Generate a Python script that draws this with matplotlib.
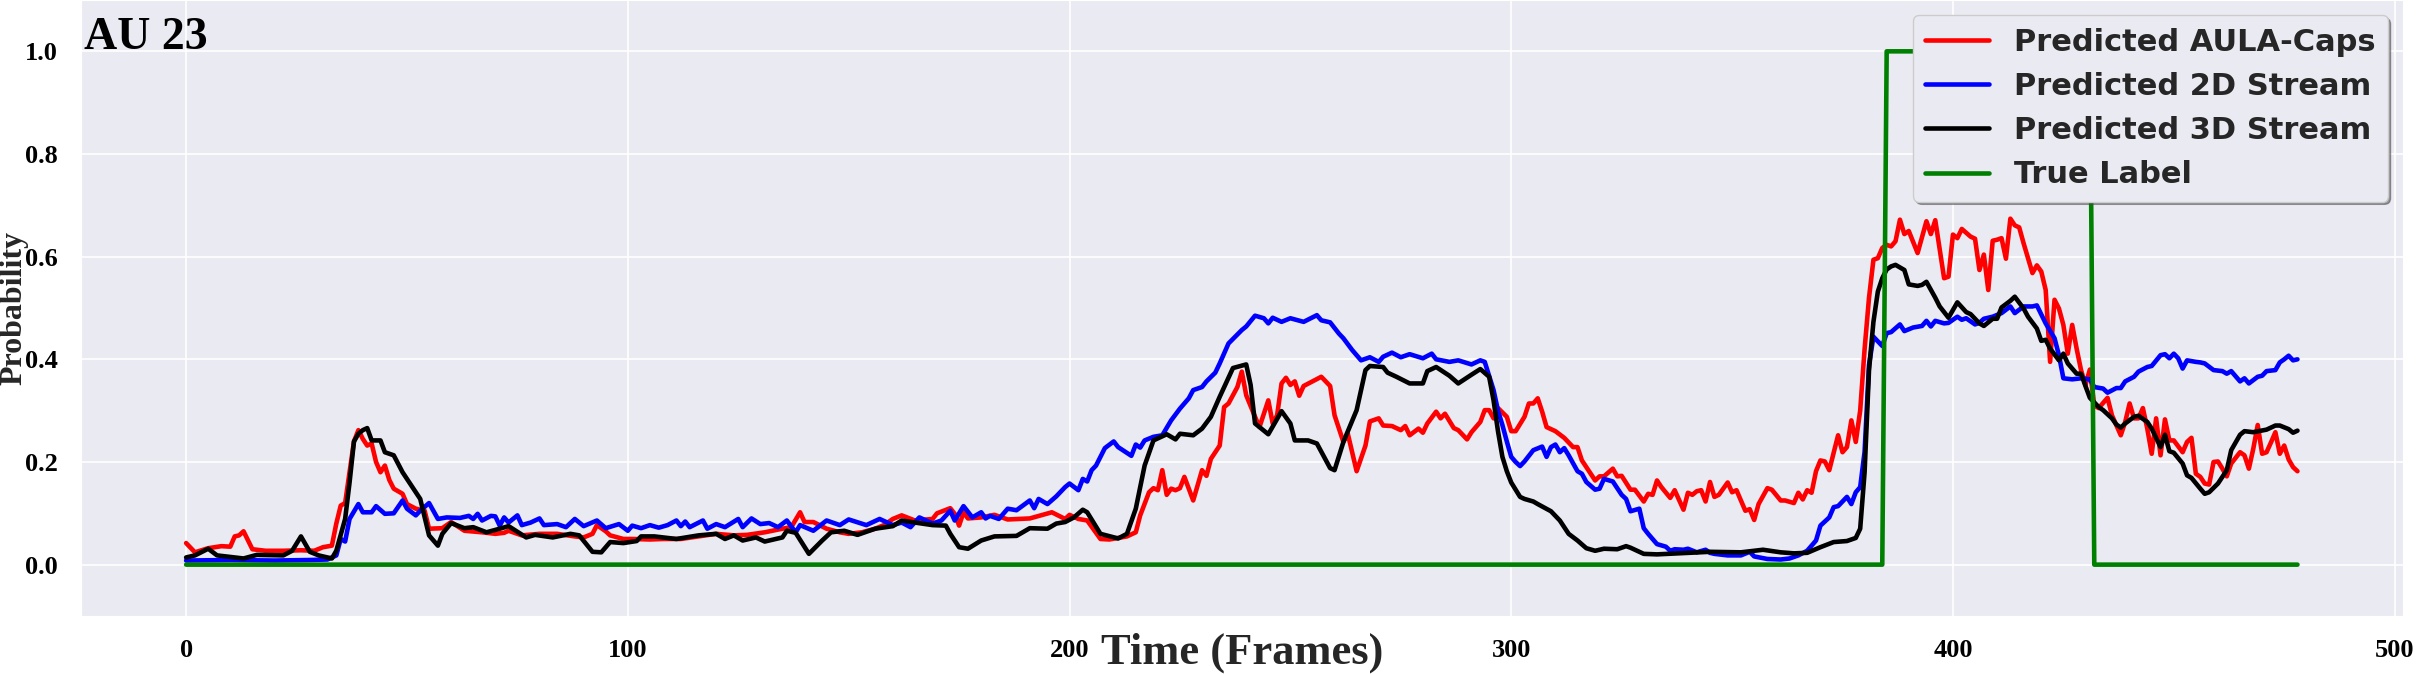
import matplotlib
matplotlib.use('Agg')
import matplotlib.pyplot as plt
import seaborn as sns

# values (frame index, probability)
frames_caps = [0, 2, 5, 8, 10, 11, 12, 13, 15, 18, 22, 26, 29, 31, 33, 34, 35, 36, 37, 38,
               39, 40, 41, 42, 43, 44, 45, 46, 47, 49, 50, 52, 54, 55, 58, 60, 63, 67, 70, 72,
               73, 76, 80, 84, 88, 90, 92, 93, 95, 96, 99, 101, 105, 108, 112, 116, 120, 124, 127, 131,
               135, 137, 139, 140, 142, 145, 148, 150, 153, 156, 158, 160, 162, 165, 169, 170, 173, 174, 175, 176,
               177, 180, 183, 186, 191, 196, 199, 200, 202, 204, 207, 209, 213, 215, 216, 218, 219, 220, 221, 222,
               223, 224, 225, 226, 228, 230, 231, 232, 234, 235, 236, 238, 239, 240, 242, 243, 245, 246, 247, 248,
               249, 250, 251, 252, 253, 255, 257, 259, 260, 262, 263, 265, 267, 268, 270, 271, 273, 275, 276, 277,
               279, 280, 281, 283, 284, 285, 287, 288, 290, 291, 293, 294, 295, 296, 297, 299, 300, 301, 303, 304,
               305, 306, 307, 308, 310, 312, 314, 315, 316, 319, 320, 321, 323, 324, 325, 327, 328, 330, 331, 332,
               333, 334, 336, 337, 339, 340, 341, 342, 343, 344, 345, 346, 347, 349, 350, 351, 353, 354, 355, 356,
               358, 359, 361, 362, 364, 365, 366, 367, 368, 369, 370, 371, 372, 374, 375, 376, 377, 378, 379, 380,
               381, 382, 383, 384, 385, 386, 387, 388, 389, 390, 392, 394, 395, 396, 398, 399, 400, 401, 402, 404,
               405, 406, 407, 408, 409, 410, 411, 412, 413, 414, 415, 416, 418, 419, 420, 421, 422, 423, 424, 425,
               426, 427, 428, 429, 430, 431, 432, 433, 435, 436, 438, 439, 440, 441, 442, 443, 444, 445, 446, 447,
               448, 449, 450, 452, 453, 454, 455, 456, 457, 458, 459, 460, 461, 462, 463, 465, 466, 467, 468, 469,
               470, 471, 472, 473, 474, 475, 476, 477, 478]
prob_caps = [0.042, 0.024, 0.032, 0.036, 0.035, 0.055, 0.057, 0.065, 0.030, 0.027, 0.027, 0.028, 0.027, 0.034, 0.037, 0.080, 0.115, 0.120, 0.180, 0.240,
             0.262, 0.245, 0.232, 0.236, 0.200, 0.180, 0.193, 0.165, 0.148, 0.138, 0.118, 0.109, 0.105, 0.070, 0.071, 0.083, 0.066, 0.063, 0.060, 0.062,
             0.066, 0.057, 0.060, 0.060, 0.055, 0.053, 0.060, 0.077, 0.065, 0.057, 0.050, 0.050, 0.049, 0.050, 0.050, 0.055, 0.060, 0.057, 0.058, 0.063,
             0.070, 0.073, 0.102, 0.083, 0.083, 0.070, 0.063, 0.060, 0.063, 0.070, 0.077, 0.089, 0.096, 0.086, 0.089, 0.100, 0.110, 0.099, 0.076, 0.102,
             0.090, 0.092, 0.097, 0.088, 0.090, 0.102, 0.089, 0.097, 0.089, 0.086, 0.050, 0.049, 0.055, 0.063, 0.096, 0.141, 0.149, 0.145, 0.184, 0.136,
             0.148, 0.145, 0.149, 0.171, 0.125, 0.184, 0.173, 0.206, 0.232, 0.307, 0.314, 0.346, 0.376, 0.330, 0.288, 0.268, 0.320, 0.275, 0.291, 0.353,
             0.364, 0.350, 0.357, 0.329, 0.348, 0.357, 0.366, 0.348, 0.291, 0.239, 0.255, 0.182, 0.232, 0.279, 0.285, 0.271, 0.270, 0.262, 0.270, 0.252,
             0.265, 0.257, 0.275, 0.298, 0.285, 0.294, 0.266, 0.262, 0.244, 0.258, 0.278, 0.301, 0.301, 0.285, 0.305, 0.288, 0.260, 0.260, 0.288, 0.314,
             0.314, 0.324, 0.298, 0.268, 0.260, 0.247, 0.229, 0.229, 0.203, 0.164, 0.172, 0.172, 0.187, 0.172, 0.173, 0.146, 0.146, 0.123, 0.138, 0.136,
             0.164, 0.151, 0.130, 0.145, 0.107, 0.140, 0.136, 0.143, 0.145, 0.123, 0.161, 0.132, 0.136, 0.160, 0.141, 0.145, 0.105, 0.108, 0.087, 0.118,
             0.149, 0.146, 0.125, 0.125, 0.120, 0.140, 0.127, 0.145, 0.140, 0.182, 0.203, 0.201, 0.184, 0.252, 0.219, 0.229, 0.281, 0.239, 0.300, 0.420,
             0.520, 0.594, 0.597, 0.617, 0.623, 0.620, 0.630, 0.672, 0.644, 0.650, 0.607, 0.669, 0.644, 0.671, 0.558, 0.561, 0.643, 0.636, 0.654, 0.639,
             0.635, 0.574, 0.604, 0.535, 0.631, 0.633, 0.636, 0.596, 0.674, 0.661, 0.657, 0.626, 0.568, 0.583, 0.571, 0.535, 0.395, 0.516, 0.499, 0.467,
             0.411, 0.467, 0.421, 0.379, 0.350, 0.380, 0.310, 0.305, 0.325, 0.291, 0.252, 0.278, 0.314, 0.285, 0.285, 0.305, 0.265, 0.216, 0.285, 0.213,
             0.283, 0.242, 0.242, 0.219, 0.239, 0.247, 0.177, 0.171, 0.158, 0.156, 0.200, 0.201, 0.187, 0.172, 0.197, 0.219, 0.213, 0.187, 0.226, 0.272,
             0.216, 0.219, 0.238, 0.258, 0.216, 0.232, 0.205, 0.190, 0.182]

frames_2d = [0, 10, 20, 28, 32, 34, 35, 36, 37, 39, 40, 42, 43, 45, 47, 49, 50, 52, 53, 55,
             57, 59, 62, 64, 65, 66, 67, 69, 70, 71, 72, 73, 75, 76, 78, 80, 81, 84, 86, 88,
             90, 93, 95, 98, 100, 101, 103, 105, 107, 109, 111, 112, 113, 114, 117, 118, 120, 122, 125, 126,
             128, 130, 132, 134, 136, 138, 139, 142, 145, 148, 150, 154, 157, 160, 162, 164, 166, 169, 171, 173,
             174, 176, 178, 180, 181, 182, 184, 186, 188, 191, 192, 193, 195, 197, 199, 200, 202, 203, 204, 205,
             206, 208, 210, 211, 214, 215, 216, 217, 219, 221, 223, 225, 227, 228, 230, 231, 233, 234, 236, 239,
             240, 242, 244, 245, 246, 248, 250, 253, 256, 257, 259, 261, 262, 264, 266, 268, 270, 271, 273, 275,
             277, 280, 282, 283, 286, 288, 291, 293, 294, 296, 297, 298, 299, 300, 301, 302, 303, 305, 307, 308,
             309, 310, 311, 312, 313, 315, 316, 317, 319, 320, 321, 323, 325, 326, 327, 329, 330, 331, 333, 335,
             336, 337, 339, 340, 342, 344, 345, 346, 349, 352, 354, 355, 358, 361, 363, 365, 367, 369, 370, 372,
             373, 374, 376, 377, 378, 379, 380, 381, 382, 384, 385, 386, 388, 389, 391, 393, 394, 395, 396, 398,
             399, 401, 402, 403, 405, 406, 407, 409, 411, 413, 414, 416, 418, 419, 421, 423, 424, 425, 427, 429,
             431, 432, 434, 435, 437, 438, 439, 441, 442, 444, 445, 447, 448, 449, 450, 451, 452, 453, 455, 456,
             457, 459, 461, 462, 463, 465, 466, 467, 469, 470, 471, 473, 474, 475, 476, 477, 478]
prob_2d = [0.008, 0.009, 0.008, 0.009, 0.010, 0.018, 0.050, 0.045, 0.089, 0.118, 0.102, 0.102, 0.114, 0.099, 0.100, 0.125, 0.109, 0.096, 0.105, 0.120,
           0.089, 0.092, 0.091, 0.095, 0.089, 0.099, 0.086, 0.095, 0.094, 0.076, 0.092, 0.082, 0.096, 0.077, 0.082, 0.090, 0.077, 0.079, 0.073, 0.089,
           0.075, 0.086, 0.071, 0.079, 0.066, 0.076, 0.071, 0.077, 0.072, 0.077, 0.086, 0.075, 0.084, 0.073, 0.086, 0.070, 0.079, 0.073, 0.089, 0.073,
           0.090, 0.079, 0.081, 0.073, 0.086, 0.063, 0.077, 0.066, 0.086, 0.077, 0.088, 0.077, 0.089, 0.077, 0.082, 0.073, 0.092, 0.080, 0.086, 0.105,
           0.086, 0.114, 0.092, 0.102, 0.090, 0.095, 0.089, 0.109, 0.106, 0.125, 0.110, 0.128, 0.118, 0.133, 0.151, 0.158, 0.145, 0.167, 0.162, 0.184,
           0.193, 0.227, 0.240, 0.229, 0.212, 0.234, 0.228, 0.242, 0.249, 0.252, 0.281, 0.304, 0.324, 0.340, 0.346, 0.357, 0.374, 0.392, 0.431, 0.457,
           0.464, 0.485, 0.480, 0.470, 0.481, 0.473, 0.480, 0.473, 0.486, 0.476, 0.472, 0.450, 0.441, 0.418, 0.398, 0.404, 0.395, 0.405, 0.413, 0.404,
           0.410, 0.402, 0.411, 0.400, 0.395, 0.398, 0.390, 0.398, 0.395, 0.340, 0.300, 0.272, 0.240, 0.210, 0.200, 0.192, 0.201, 0.223, 0.230, 0.210,
           0.229, 0.234, 0.219, 0.227, 0.213, 0.182, 0.177, 0.161, 0.146, 0.148, 0.167, 0.162, 0.136, 0.128, 0.104, 0.109, 0.071, 0.060, 0.040, 0.035,
           0.027, 0.030, 0.029, 0.031, 0.024, 0.029, 0.023, 0.021, 0.018, 0.018, 0.025, 0.016, 0.011, 0.010, 0.012, 0.018, 0.027, 0.047, 0.076, 0.092,
           0.112, 0.114, 0.132, 0.118, 0.141, 0.151, 0.220, 0.389, 0.444, 0.426, 0.451, 0.453, 0.468, 0.455, 0.462, 0.465, 0.475, 0.464, 0.475, 0.470,
           0.471, 0.483, 0.477, 0.480, 0.468, 0.471, 0.479, 0.483, 0.490, 0.503, 0.490, 0.503, 0.503, 0.505, 0.470, 0.441, 0.408, 0.363, 0.361, 0.363,
           0.361, 0.346, 0.343, 0.335, 0.344, 0.344, 0.357, 0.366, 0.376, 0.385, 0.387, 0.408, 0.410, 0.402, 0.411, 0.402, 0.382, 0.398, 0.395, 0.394,
           0.392, 0.379, 0.377, 0.372, 0.377, 0.357, 0.363, 0.353, 0.366, 0.368, 0.377, 0.379, 0.394, 0.400, 0.407, 0.398, 0.400]

frames_3d = [0, 2, 5, 7, 13, 16, 22, 24, 26, 28, 30, 33, 34, 36, 37, 38, 39, 40, 41, 42,
             44, 45, 47, 49, 51, 53, 55, 57, 58, 60, 63, 65, 68, 71, 73, 77, 79, 83, 87, 89,
             92, 94, 96, 99, 102, 103, 106, 111, 116, 120, 122, 124, 126, 129, 131, 135, 136, 138, 141, 144,
             146, 149, 152, 156, 160, 162, 165, 169, 172, 173, 175, 177, 180, 183, 188, 191, 195, 197, 199, 201,
             203, 204, 207, 211, 213, 215, 217, 219, 222, 224, 225, 228, 230, 232, 234, 237, 240, 241, 242, 245,
             248, 250, 251, 254, 256, 259, 260, 262, 265, 267, 268, 271, 272, 274, 277, 280, 281, 283, 286, 288,
             291, 293, 295, 296, 297, 298, 299, 300, 302, 303, 305, 306, 309, 311, 313, 315, 317, 319, 321, 324,
             326, 327, 330, 333, 338, 345, 352, 357, 361, 364, 367, 370, 373, 376, 378, 379, 380, 381, 382, 383,
             384, 385, 386, 387, 389, 390, 392, 393, 394, 396, 397, 399, 401, 403, 404, 406, 407, 409, 410, 411,
             413, 414, 416, 417, 419, 420, 421, 422, 424, 425, 426, 428, 429, 430, 431, 433, 434, 436, 437, 438,
             439, 441, 442, 444, 445, 447, 448, 449, 450, 452, 453, 454, 456, 457, 458, 460, 462, 463, 465, 466,
             468, 471, 473, 474, 476, 477, 478]
prob_3d = [0.014, 0.018, 0.031, 0.018, 0.012, 0.019, 0.018, 0.027, 0.055, 0.025, 0.018, 0.012, 0.027, 0.089, 0.160, 0.240, 0.255, 0.262, 0.266, 0.242,
           0.242, 0.219, 0.213, 0.180, 0.154, 0.128, 0.057, 0.037, 0.060, 0.081, 0.071, 0.073, 0.063, 0.070, 0.075, 0.053, 0.058, 0.053, 0.060, 0.057,
           0.025, 0.024, 0.044, 0.042, 0.046, 0.055, 0.055, 0.050, 0.057, 0.060, 0.050, 0.057, 0.047, 0.053, 0.045, 0.053, 0.066, 0.062, 0.021, 0.047,
           0.063, 0.066, 0.058, 0.070, 0.075, 0.086, 0.082, 0.077, 0.076, 0.060, 0.034, 0.031, 0.047, 0.055, 0.056, 0.071, 0.070, 0.080, 0.083, 0.092,
           0.107, 0.102, 0.060, 0.051, 0.060, 0.109, 0.193, 0.242, 0.254, 0.244, 0.255, 0.252, 0.265, 0.288, 0.327, 0.383, 0.390, 0.350, 0.275, 0.254,
           0.299, 0.275, 0.242, 0.242, 0.236, 0.188, 0.184, 0.239, 0.301, 0.379, 0.387, 0.385, 0.374, 0.366, 0.353, 0.353, 0.377, 0.385, 0.368, 0.353,
           0.370, 0.381, 0.366, 0.320, 0.260, 0.210, 0.182, 0.160, 0.132, 0.128, 0.123, 0.118, 0.104, 0.086, 0.060, 0.047, 0.032, 0.027, 0.031, 0.030,
           0.036, 0.033, 0.021, 0.020, 0.022, 0.025, 0.024, 0.029, 0.024, 0.022, 0.023, 0.034, 0.044, 0.046, 0.052, 0.070, 0.180, 0.379, 0.473, 0.532,
           0.558, 0.575, 0.581, 0.584, 0.574, 0.546, 0.543, 0.545, 0.551, 0.520, 0.503, 0.481, 0.511, 0.492, 0.488, 0.470, 0.465, 0.479, 0.479, 0.501,
           0.514, 0.522, 0.499, 0.483, 0.460, 0.436, 0.438, 0.421, 0.398, 0.411, 0.392, 0.372, 0.372, 0.348, 0.325, 0.307, 0.301, 0.285, 0.273, 0.267,
           0.275, 0.288, 0.290, 0.278, 0.265, 0.229, 0.253, 0.221, 0.218, 0.197, 0.174, 0.169, 0.148, 0.138, 0.141, 0.158, 0.184, 0.223, 0.253, 0.260,
           0.258, 0.263, 0.271, 0.271, 0.264, 0.257, 0.261]

frames_true = [0, 384, 385, 431, 432, 478]
prob_true = [0, 0, 1, 1, 0, 0]

sns.set_style('darkgrid')
plt.rcParams['font.family'] = 'Liberation Serif'
plt.rcParams['font.weight'] = 'bold'
plt.rcParams['text.color'] = 'black'
plt.rcParams['xtick.color'] = 'black'
plt.rcParams['ytick.color'] = 'black'
plt.rcParams['grid.linewidth'] = 1.2

fig = plt.figure(figsize=(24.19, 6.74), dpi=100)
ax = fig.add_axes([0.0333, 0.0861, 0.9601, 0.9139])

ax.plot(frames_caps, prob_caps, color='red', lw=3.3, label='Predicted AULA-Caps')
ax.plot(frames_2d, prob_2d, color='blue', lw=3.3, label='Predicted 2D Stream')
ax.plot(frames_3d, prob_3d, color='black', lw=3.3, label='Predicted 3D Stream')
ax.plot(frames_true, prob_true, color='green', lw=3.3, label='True Label')

ax.margins(x=0.05)
ax.set_ylim(-0.1, 1.1)
ax.tick_params(labelsize=19, pad=13)

ax.set_xlabel('Time (Frames)', fontsize=32, fontweight='bold')
ax.xaxis.set_label_coords(0.5, -0.027)
ax.set_ylabel('Probability', fontsize=23, fontweight='bold')
ax.yaxis.set_label_coords(-0.0226, 0.5)

ax.text(0.0015, 0.92, 'AU 23', transform=ax.transAxes, fontsize=33,
        fontweight='bold', va='baseline')

ax.legend(loc='upper right', shadow=True, handlelength=2.1, labelspacing=0.5,
          prop={'family': 'DejaVu Sans', 'weight': 'bold', 'size': 22},
          labelcolor='0.15')

plt.savefig('out.png', dpi=100)
